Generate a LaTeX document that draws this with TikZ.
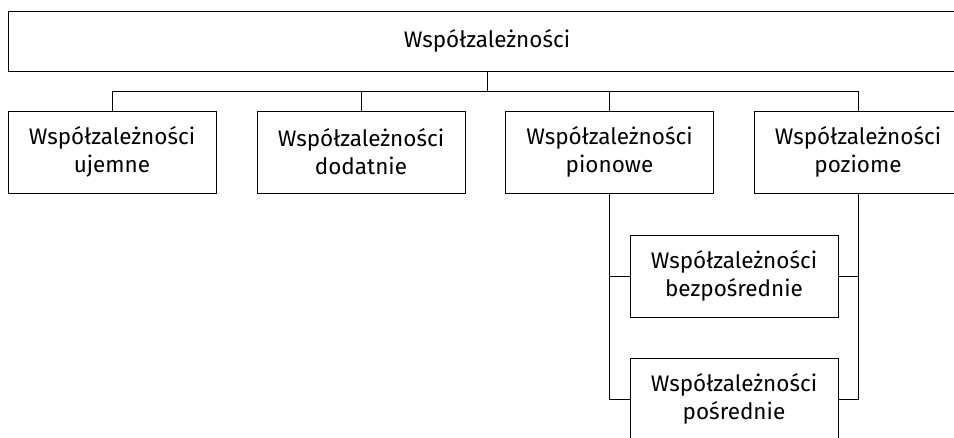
\documentclass[tikz,border=0pt]{standalone}
\usepackage{fontspec}
\setmainfont{Fira Sans}
\begin{document}
\begin{tikzpicture}[x=1pt,y=1pt,
  box/.style={draw, line width=0.9pt, minimum width=208pt, minimum height=82pt, inner sep=0pt, align=center, font=\fontsize{22.5}{28}\selectfont},
  conn/.style={draw, line width=0.9pt}]
\useasboundingbox (0,0) rectangle (954,-438);
\clip (0,0) rectangle (954,-438);
\node[box, minimum width=958pt, minimum height=60pt] (top) at (487,-41) {Współzależności};
\node[box] (c1) at (112,-152) {Współzależności\\ujemne};
\node[box] (c2) at (361,-152) {Współzależności\\dodatnie};
\node[box] (c3) at (609.5,-152) {Współzależności\\pionowe};
\node[box] (c4) at (858,-152) {Współzależności\\poziome};
\node[box] (s1) at (734,-276) {Współzależności\\bezpośrednie};
\node[box] (s2) at (734,-399) {Współzależności\\pośrednie};
\coordinate (bus) at (0,-91);
\draw[conn] (top.south) -- (top.south |- bus);
\draw[conn] (c1.north) -- (c1.north |- bus) -| (c4.north);
\draw[conn] (c2.north) -- (c2.north |- bus);
\draw[conn] (c3.north) -- (c3.north |- bus);
\draw[conn] (c3.south) |- (s2.west);
\draw[conn] (s1.west) -- (s1.west -| c3.south);
\draw[conn] (c4.south) |- (s2.east);
\draw[conn] (s1.east) -- (s1.east -| c4.south);
\end{tikzpicture}
\end{document}
